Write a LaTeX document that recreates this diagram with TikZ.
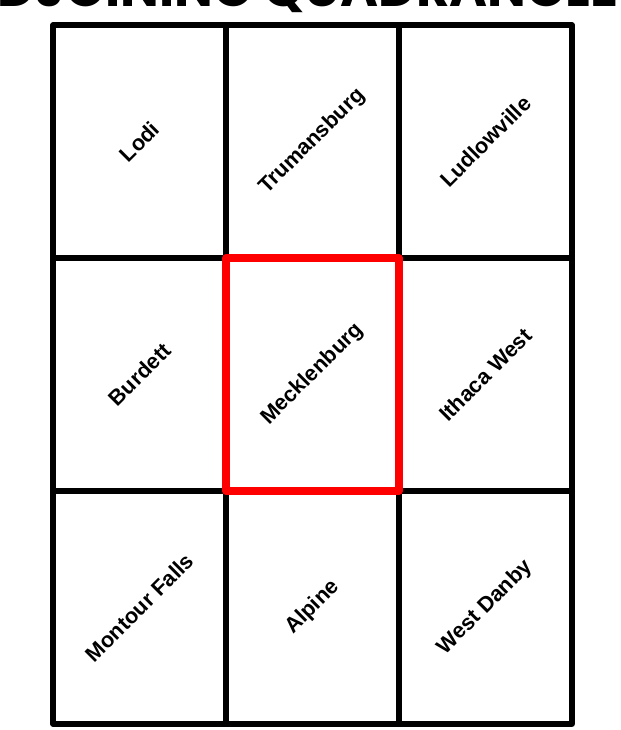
\documentclass[tikz,border=0pt]{standalone}
\usepackage{fontspec}
\setmainfont{Liberation Sans}
\newfontfamily\titlefont{Poppins}

\begin{document}
\begin{tikzpicture}[
    x=0.03cm, y=-0.03cm,
    grid/.style={draw=black, line width=4.3pt, line cap=round, line join=round},
    focus/.style={draw=red, line width=6pt, line join=round},
    quad/.style={rotate=45, font=\fontsize{18.5}{20}\selectfont\bfseries, text=black, inner sep=0pt}
]
    \useasboundingbox (0,0) rectangle (621,730);

    % Define coordinates
    \coordinate (NW) at (53,25);     % outer top left
    \coordinate (SE) at (572,724);   % outer bottom right
    \coordinate (A) at (226,258);    % centre square top left
    \coordinate (B) at (399,491);    % centre square bottom right

    % Title, cut by the top edge
    \node[anchor=base, font=\titlefont\fontsize{44}{46}\selectfont\bfseries] (title) at (305,7) {ADJOINING QUADRANGLES};

    % Draw the grid
    \draw[grid] (NW) rectangle (SE);
    \draw[grid] (226,25) -- (226,724);
    \draw[grid] (399,25) -- (399,724);
    \draw[grid] (53,258) -- (572,258);
    \draw[grid] (53,491) -- (572,491);

    % Draw the map itself
    \draw[focus] (A) rectangle (B);

    % Quadrangle names
    \node[quad] (lodi) at (139.5,141.5) {Lodi};
    \node[quad] (trumansburg) at (312.5,141.5) {Trumansburg};
    \node[quad] (ludlowville) at (485.5,141.5) {Ludlowville};
    \node[quad] (burdett) at (139.5,374.5) {Burdett};
    \node[quad] (mecklenburg) at (312.5,374.5) {Mecklenburg};
    \node[quad] (ithaca) at (485.5,374.5) {Ithaca West};
    \node[quad] (montour) at (139.5,607.5) {Montour Falls};
    \node[quad] (alpine) at (312.5,607.5) {Alpine};
    \node[quad] (danby) at (485.5,607.5) {West Danby};

\end{tikzpicture}
\end{document}
